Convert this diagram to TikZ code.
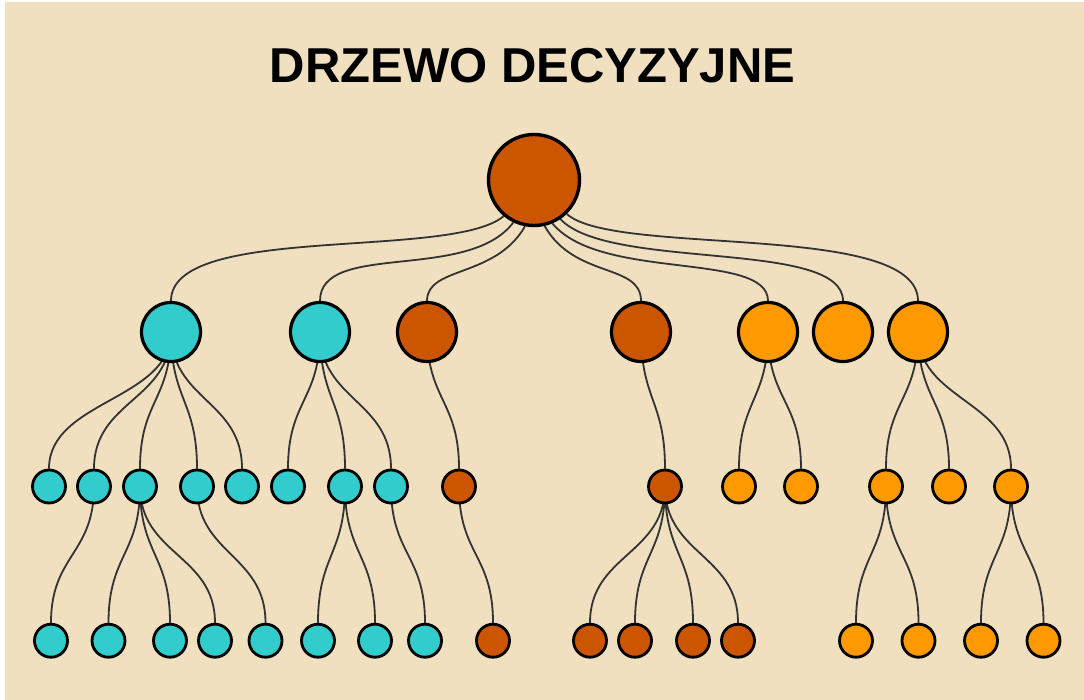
\documentclass[tikz,border=0pt]{standalone}
\usepackage{fontspec}
\setmainfont{Liberation Sans}
\usetikzlibrary{calc}
\pgfdeclarelayer{bg}
\pgfdeclarelayer{paperlayer}
\pgfsetlayers{paperlayer,bg,main}
\definecolor{paper}{RGB}{240,224,192}
\definecolor{cyanc}{RGB}{51,204,204}
\definecolor{darko}{RGB}{204,85,0}
\definecolor{orang}{RGB}{255,153,0}
\definecolor{edgec}{RGB}{51,51,51}
\tikzset{
  bignode/.style={circle,draw=black,line width=3.4pt,minimum size=91pt,inner sep=0pt},
  midnode/.style={circle,draw=black,line width=3.2pt,minimum size=59pt,inner sep=0pt},
  leafnode/.style={circle,draw=black,line width=2.8pt,minimum size=33pt,inner sep=0pt},
  edge/.style={draw=edgec,line width=1.8pt},
}
\newcommand\lnk[2]{\draw[edge] let \p1=(#1.center), \p2=(#2.north), \p3=($(\p1)!0.5!(\p2)$) in (\p1) .. controls (\x1,\y3) and (\x2,\y3) .. (\p2);}
\begin{document}
\begin{tikzpicture}[x=1pt,y=-1pt]
\useasboundingbox (0,0) rectangle (1084,700);
\begin{pgfonlayer}{paperlayer}
\fill[white] (0,0) rectangle (1084,700);
\fill[paper] (5,2) rectangle (1084,700);
\end{pgfonlayer}
\node[anchor=base,inner sep=0pt,font=\fontsize{49}{49}\selectfont\bfseries] (title) at (532.5,83) {DRZEWO DECYZYJNE};
% root
\node[bignode,fill=darko] (r) at (534,180) {};
% level 1
\node[midnode,fill=cyanc] (a1) at (171,332) {};
\node[midnode,fill=cyanc] (a2) at (320,332) {};
\node[midnode,fill=darko] (a3) at (427,332) {};
\node[midnode,fill=darko] (a4) at (641,332) {};
\node[midnode,fill=orang] (a5) at (768,332) {};
\node[midnode,fill=orang] (a6) at (843,332) {};
\node[midnode,fill=orang] (a7) at (918,332) {};
% level 2
\foreach \n/\x/\c in {b1/49/cyanc,b2/94/cyanc,b3/140/cyanc,b4/197/cyanc,b5/242/cyanc,b6/288/cyanc,b7/345/cyanc,b8/391/cyanc,b9/459/darko,b10/665/darko,b11/739/orang,b12/801/orang,b13/886/orang,b14/949/orang,b15/1011/orang}
  {\node[leafnode,fill=\c] (\n) at (\x,486.5) {};}
% level 3
\foreach \n/\x/\c in {c1/51/cyanc,c2/108.5/cyanc,c3/170/cyanc,c4/215/cyanc,c5/265.5/cyanc,c6/318/cyanc,c7/375/cyanc,c8/425/cyanc,c9/493/darko,c10/590/darko,c11/635/darko,c12/693/darko,c13/738/darko,c14/856/orang,c15/918.5/orang,c16/981/orang,c17/1043.5/orang}
  {\node[leafnode,fill=\c] (\n) at (\x,640.7) {};}
\begin{pgfonlayer}{bg}
% root edges
\draw[edge] (r.230) .. controls +(-52,44) and +(0,-78) .. (a1.north);
\draw[edge] (r.244) .. controls +(-45,60) and +(0,-60) .. (a2.north);
\draw[edge] (r.259) .. controls +(-30,52) and +(0,-35) .. (a3.north);
\draw[edge] (r.283) .. controls +(30,53) and +(0,-38) .. (a4.north);
\draw[edge] (r.293) .. controls +(48,58) and +(0,-50) .. (a5.north);
\draw[edge] (r.304) .. controls +(49,52) and +(0,-62) .. (a6.north);
\draw[edge] (r.314) .. controls +(47,43) and +(0,-80) .. (a7.north);
\foreach \ua/\ub in {a1/b1,a1/b2,a1/b3,a1/b4,a1/b5,a2/b6,a2/b7,a2/b8,a3/b9,a4/b10,a5/b11,a5/b12,a7/b13,a7/b14,a7/b15,b2/c1,b3/c2,b3/c3,b3/c4,b4/c5,b7/c6,b7/c7,b8/c8,b9/c9,b10/c10,b10/c11,b10/c12,b10/c13,b13/c14,b13/c15,b15/c16,b15/c17}
  {\lnk{\ua}{\ub}}
\end{pgfonlayer}
\end{tikzpicture}
\end{document}
